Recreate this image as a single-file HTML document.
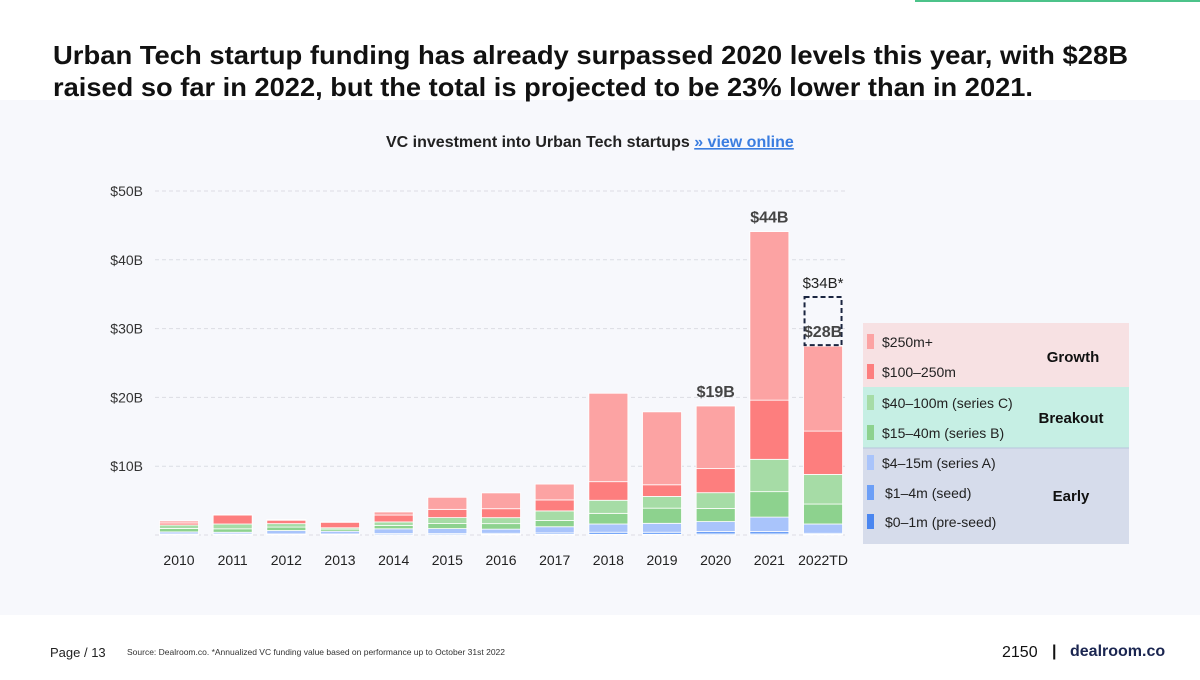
<!DOCTYPE html>
<html><head><meta charset="utf-8"><style>
body{margin:0;width:1200px;height:675px;background:#fff;overflow:hidden;font-family:"Liberation Sans",sans-serif}
</style></head><body>
<svg width="1200" height="675" xmlns="http://www.w3.org/2000/svg">
<rect x="0" y="100" width="1200" height="515" fill="#f7f8fc"/>
<rect x="915" y="0" width="285" height="2" fill="#4cc38a"/>
<text x="53" y="64" font-size="26" font-weight="bold" fill="#111" textLength="1075" lengthAdjust="spacingAndGlyphs">Urban Tech startup funding has already surpassed 2020 levels this year, with $28B</text>
<text x="53" y="96" font-size="26" font-weight="bold" fill="#111" textLength="980" lengthAdjust="spacingAndGlyphs">raised so far in 2022, but the total is projected to be 23% lower than in 2021.</text>
<text x="386" y="147" font-size="16" font-weight="bold" fill="#222">VC investment into Urban Tech startups <tspan fill="#3a7de0" text-decoration="underline">» view online</tspan></text>
<g id="grid"></g><g id="bars"></g><g id="labels"></g>
<g>
<rect x="863" y="323" width="266" height="64" fill="#f7e1e3"/>
<rect x="863" y="387" width="266" height="61" fill="#c6efe4"/>
<rect x="863" y="448" width="266" height="96" fill="#d6dceb"/>
<line x1="863" y1="448" x2="1129" y2="448" stroke="#b8c6dc"/>
<text x="1073" y="362" font-size="15" font-weight="bold" text-anchor="middle" fill="#111">Growth</text>
<text x="1071" y="423" font-size="15" font-weight="bold" text-anchor="middle" fill="#111">Breakout</text>
<text x="1071" y="501" font-size="15" font-weight="bold" text-anchor="middle" fill="#111">Early</text>
<g id="legendItems"></g>
</g>
<text x="50" y="657" font-size="13" fill="#222">Page / 13</text>
<text x="127" y="655" font-size="8.5" fill="#333">Source: Dealroom.co. *Annualized VC funding value based on performance up to October 31st 2022</text>
<text x="1002" y="657" font-size="16" fill="#111">2150</text>
<text x="1052" y="656" font-size="16" font-weight="bold" fill="#111">|</text>
<text x="1070" y="656" font-size="16" font-weight="bold" fill="#1a2550">dealroom.co</text>
</svg>
<script>
const years=["2010","2011","2012","2013","2014","2015","2016","2017","2018","2019","2020","2021","2022TD"];
const preseed=[0.05,0.05,0.05,0.05,0.05,0.05,0.1,0.1,0.1,0.1,0.15,0.15,0.1];
const seed=[0.1,0.1,0.1,0.1,0.15,0.15,0.15,0.2,0.3,0.3,0.35,0.35,0.15];
const seriesA=[0.3,0.25,0.5,0.4,0.7,0.73,0.6,0.9,1.2,1.3,1.45,2.1,1.35];
const seriesB=[0.5,0.5,0.5,0.3,0.5,0.73,0.8,0.9,1.55,2.2,1.9,3.7,2.9];
const seriesC=[0.5,0.7,0.5,0.2,0.5,0.87,0.87,1.4,1.9,1.7,2.3,4.7,4.3];
const m100=[0.3,1.3,0.5,0.8,1.0,1.2,1.3,1.6,2.7,1.7,3.5,8.6,6.3];
const m250=[0.3,0.05,0.1,0.05,0.45,1.75,2.3,2.3,12.85,10.6,9.1,24.5,12.35];
const yTicks=[10,20,30,40,50];
const totalLabels={"2020":"$19B","2021":"$44B","2022TD":"$28B"};
const projected=34.6;
const projectedLabel="$34B*";
const series=[preseed,seed,seriesA,seriesB,seriesC,m100,m250];
const colors=["#4a86f0","#6c9ff7","#a9c4fb","#8dd28e","#a6dca6","#fd7e7e","#fca3a3"];
const legendNames=["$0–1m (pre-seed)","$1–4m (seed)","$4–15m (series A)","$15–40m (series B)","$40–100m (series C)","$100–250m","$250m+"];
const NS="http://www.w3.org/2000/svg";
const y=v=>535-v*6.88;
const x=i=>179+i*53.67;
const bw=39;
function mk(t,a,p){const e=document.createElementNS(NS,t);for(const k in a)e.setAttribute(k,a[k]);p.appendChild(e);return e;}
const grid=document.getElementById('grid');
yTicks.forEach(t=>{const l=mk('line',{x1:155,x2:845,y1:y(t),y2:y(t),stroke:'#dcdde3','stroke-dasharray':'4,3'},grid);


const tx=mk('text',{x:143,y:y(t)+5,'font-size':14,'text-anchor':'end',fill:'#333'},grid);tx.textContent='$'+t+'B';

});
const bl=mk('line',{x1:155,x2:845,y1:535,y2:535,stroke:'#dcdde3','stroke-dasharray':'4,3'},grid);


const bars=document.getElementById('bars'),labels=document.getElementById('labels');
years.forEach((yr,i)=>{let c=0;
series.forEach((s,k)=>{const v=s[i];const r=mk('rect',{x:x(i)-bw/2,y:y(c+v),width:bw,height:Math.max(0,y(c)-y(c+v)),fill:colors[k],stroke:'#fff','stroke-width':0.8},bars);

c+=v;});
const t=mk('text',{x:x(i),y:565,'font-size':14,'text-anchor':'middle',fill:'#222'},labels);t.textContent=yr;


if(totalLabels[yr]){const tl=mk('text',{x:x(i),y:y(c)-9,'font-size':16,'font-weight':'bold','text-anchor':'middle',fill:'#444'},labels);tl.textContent=totalLabels[yr];

}
if(yr==="2022TD"){const d=mk('rect',{x:x(i)-bw/2+1,y:y(projected),width:bw-2,height:y(c)-y(projected)-1,fill:'none',stroke:'#1a2540','stroke-width':2,'stroke-dasharray':'5,3'},bars);


const pt=mk('text',{x:x(i),y:y(projected)-9,'font-size':15,'text-anchor':'middle',fill:'#222'},labels);pt.textContent=projectedLabel;

}
});
const li=document.getElementById('legendItems');
const ly=[522,493,463,433,403,372,342];
legendNames.forEach((n,k)=>{const r=mk('rect',{x:867,y:ly[k]-8,width:7,height:15,fill:colors[k]},li);


const t=mk('text',{x:k<2?885:882,y:ly[k]+5,'font-size':14,fill:'#222'},li);t.textContent=n;

});
</script>
</body></html>
